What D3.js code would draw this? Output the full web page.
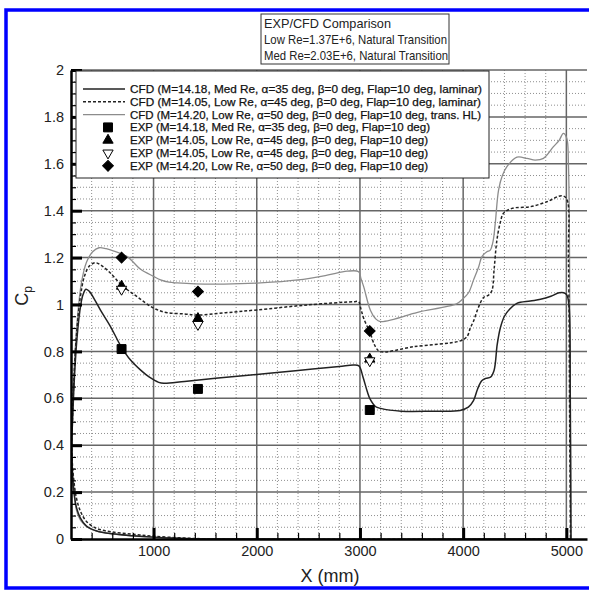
<!DOCTYPE html>
<html>
<head>
<meta charset="utf-8">
<script src="https://cdn.jsdelivr.net/npm/d3@7"></script>
<style>
body { margin: 0; background: #fff; }
text { font-family: "Liberation Sans", Arial, Helvetica, sans-serif; }
</style>
</head>
<body>
<div id="chart"></div>
<script>
// ---- data ----
var xTicks = [1000, 2000, 3000, 4000, 5000];
var xTickLabels = ["1000", "2000", "3000", "4000", "5000"];
var yTicks = [0, 0.2, 0.4, 0.6, 0.8, 1, 1.2, 1.4, 1.6, 1.8, 2];
var yTickLabels = ["0", "0.2", "0.4", "0.6", "0.8", "1", "1.2", "1.4", "1.6", "1.8", "2"];

var titleLines = ["EXP/CFD Comparison", "Low Re=1.37E+6, Natural Transition", "Med Re=2.03E+6, Natural Transition"];

var legendLabels = [
  "CFD (M=14.18, Med Re, \u03b1=35 deg, \u03b2=0 deg, Flap=10 deg, laminar)",
  "CFD (M=14.05, Low Re, \u03b1=45 deg, \u03b2=0 deg, Flap=10 deg, laminar)",
  "CFD (M=14.20, Low Re, \u03b1=50 deg, \u03b2=0 deg, Flap=10 deg, trans. HL)",
  "EXP (M=14.18, Med Re, \u03b1=35 deg, \u03b2=0 deg, Flap=10 deg)",
  "EXP (M=14.05, Low Re, \u03b1=45 deg, \u03b2=0 deg, Flap=10 deg)",
  "EXP (M=14.05, Low Re, \u03b1=45 deg, \u03b2=0 deg, Flap=10 deg)",
  "EXP (M=14.20, Low Re, \u03b1=50 deg, \u03b2=0 deg, Flap=10 deg)"
];

// CFD, leeward side (trailing edge -> nose)
var cfd35LeeX  = [5045, 1500, 1200, 1000, 800, 600, 450, 350, 290, 250, 225, 212];
var cfd35LeeCp = [0, 0, 0.004, 0.008, 0.014, 0.022, 0.034, 0.055, 0.09, 0.14, 0.22, 0.3];
var cfd45LeeX  = [5040, 1600, 1300, 1000, 800, 600, 450, 350, 290, 250, 225, 212];
var cfd45LeeCp = [0, 0, 0.004, 0.012, 0.02, 0.03, 0.045, 0.075, 0.12, 0.18, 0.26, 0.33];
var cfd50LeeX  = [5042, 1400, 1100, 900, 700, 500, 380, 300, 255, 228, 213];
var cfd50LeeCp = [0, 0, 0.005, 0.01, 0.017, 0.028, 0.045, 0.075, 0.12, 0.2, 0.3];

// CFD, windward side (nose -> trailing edge)
var cfd35X  = [205, 215, 230, 255, 285, 315, 345, 380, 430, 487, 584, 680, 777, 875, 960, 1050, 1100, 1300, 1600, 2000, 2400, 2800, 2940, 2990, 3030, 3070, 3100, 3150, 3200, 3400, 3700, 3970, 4050, 4100, 4140, 4180, 4220, 4265, 4300, 4330, 4360, 4400, 4450, 4520, 4650, 4750, 4850, 4930, 4975, 5005, 5025, 5038, 5045];
var cfd35Cp = [0.40, 0.50, 0.66, 0.84, 0.97, 1.04, 1.065, 1.055, 1.02, 0.975, 0.905, 0.825, 0.763, 0.72, 0.69, 0.668, 0.664, 0.672, 0.685, 0.702, 0.719, 0.736, 0.742, 0.738, 0.69, 0.63, 0.595, 0.565, 0.557, 0.545, 0.545, 0.548, 0.562, 0.59, 0.64, 0.675, 0.685, 0.69, 0.72, 0.83, 0.90, 0.95, 0.98, 1.005, 1.015, 1.022, 1.035, 1.05, 1.05, 1.04, 1.0, 0.6, 0];

var cfd45X  = [205, 215, 230, 255, 290, 330, 380, 438, 500, 584, 690, 842, 1003, 1133, 1300, 1423, 1700, 2004, 2488, 2939, 2987, 3010, 3036, 3100, 3150, 3198, 3520, 3972, 4037, 4069, 4101, 4150, 4198, 4246, 4279, 4300, 4327, 4360, 4391, 4472, 4650, 4811, 4956, 5004, 5020, 5032, 5040];
var cfd45Cp = [0.40, 0.52, 0.70, 0.88, 1.03, 1.12, 1.165, 1.178, 1.165, 1.133, 1.083, 1.033, 0.984, 0.965, 0.96, 0.955, 0.965, 0.977, 0.998, 1.012, 1.012, 0.98, 0.941, 0.877, 0.82, 0.799, 0.82, 0.845, 0.863, 0.9, 0.93, 0.99, 1.03, 1.04, 1.06, 1.15, 1.275, 1.35, 1.389, 1.41, 1.417, 1.438, 1.464, 1.449, 1.2, 0.5, 0];

var cfd50X  = [205, 215, 230, 260, 300, 350, 410, 471, 540, 616, 745, 875, 1000, 1068, 1150, 1229, 1400, 1681, 2036, 2400, 2682, 2875, 2987, 3010, 3036, 3100, 3150, 3198, 3520, 3585, 3936, 3988, 4052, 4101, 4150, 4182, 4230, 4263, 4290, 4311, 4343, 4380, 4424, 4521, 4618, 4698, 4778, 4875, 4930, 4971, 5004, 5020, 5035, 5042];
var cfd50Cp = [0.40, 0.55, 0.72, 0.93, 1.09, 1.18, 1.225, 1.242, 1.238, 1.228, 1.204, 1.15, 1.12, 1.105, 1.095, 1.092, 1.088, 1.087, 1.092, 1.105, 1.125, 1.142, 1.14, 1.11, 1.076, 0.977, 0.94, 0.927, 0.962, 0.97, 1.003, 1.02, 1.05, 1.105, 1.16, 1.204, 1.225, 1.232, 1.27, 1.346, 1.488, 1.55, 1.588, 1.628, 1.623, 1.616, 1.623, 1.673, 1.70, 1.73, 1.709, 1.6, 0.8, 0];

// EXP
var expX = [690, 1430, 3095];
var exp35Cp = [0.81, 0.64, 0.55];
var exp45Cp = [1.078, 0.94, 0.767];
var exp45bCp = [1.065, 0.915, 0.76];
var exp50Cp = [1.20, 1.055, 0.887];

// ---- layout ----
var W = 589, H = 590;
var svg = d3.select("#chart").append("svg")
    .attr("width", W)
    .attr("height", H);

var x = d3.scaleLinear().domain([200, 5200]).range([71, 587]);
var y = d3.scaleLinear().domain([0, 2]).range([539, 70]);

svg.append("defs").append("clipPath").attr("id", "plotclip")
    .append("rect")
    .attr("x", 71).attr("y", 69)
    .attr("width", 520).attr("height", 471);

//grid
var xMinor = d3.range(400, 5200, 200).filter(function(v){ return v % 1000 != 0; });
var yMinor = d3.range(1, 40).map(function(i){ return i * 0.05; }).filter(function(v, i){ return (i + 1) % 4 != 0; });

var grid = svg.append("g").attr("clip-path", "url(#plotclip)");

grid.selectAll(".vminor").data(xMinor).enter().append("line")
    .attr("class", "vminor")
    .attr("x1", function(d){ return x(d); }).attr("x2", function(d){ return x(d); })
    .attr("y1", y(0)).attr("y2", y(2))
    .attr("stroke", "#8f8f8f").attr("stroke-width", 1)
    .attr("stroke-dasharray", "1,2");

grid.selectAll(".hminor").data(yMinor).enter().append("line")
    .attr("class", "hminor")
    .attr("x1", x(200)).attr("x2", x(5200))
    .attr("y1", function(d){ return y(d); }).attr("y2", function(d){ return y(d); })
    .attr("stroke", "#8f8f8f").attr("stroke-width", 1)
    .attr("stroke-dasharray", "1,2");

grid.selectAll(".vmajor").data(xTicks).enter().append("line")
    .attr("class", "vmajor")
    .attr("x1", function(d){ return x(d); }).attr("x2", function(d){ return x(d); })
    .attr("y1", y(0)).attr("y2", y(2))
    .attr("stroke", "#666").attr("stroke-width", 1.5);

grid.selectAll(".hmajor").data(yTicks.slice(1)).enter().append("line")
    .attr("class", "hmajor")
    .attr("x1", x(200)).attr("x2", x(5200))
    .attr("y1", function(d){ return y(d); }).attr("y2", function(d){ return y(d); })
    .attr("stroke", "#666").attr("stroke-width", 1.5);

//curves
function joinSeries(leeX, leeCp, winX, winCp) {
    var pts = [];
    for (var i = 0; i < leeX.length; i++) pts.push([leeX[i], leeCp[i]]);
    for (var j = 0; j < winX.length; j++) pts.push([winX[j], winCp[j]]);
    return pts;
}

var line = d3.line()
    .x(function(d){ return x(d[0]); })
    .y(function(d){ return y(d[1]); })
    .curve(d3.curveCatmullRom.alpha(0.5));

var curves = svg.append("g").attr("clip-path", "url(#plotclip)");

curves.append("path")
    .attr("d", line(joinSeries(cfd50LeeX, cfd50LeeCp, cfd50X, cfd50Cp)))
    .attr("fill", "none").attr("stroke", "#8c8c8c").attr("stroke-width", 1.3);

curves.append("path")
    .attr("d", line(joinSeries(cfd45LeeX, cfd45LeeCp, cfd45X, cfd45Cp)))
    .attr("fill", "none").attr("stroke", "#222").attr("stroke-width", 1.5)
    .attr("stroke-dasharray", "3,2");

curves.append("path")
    .attr("d", line(joinSeries(cfd35LeeX, cfd35LeeCp, cfd35X, cfd35Cp)))
    .attr("fill", "none").attr("stroke", "#222").attr("stroke-width", 1.5);

//markers
var sq = d3.symbol().type(d3.symbolSquare).size(80);
var tri = d3.symbol().type(d3.symbolTriangle).size(46);
var dia = d3.symbol().type(d3.symbolSquare).size(58);

function drawMarkers(cls, cp, sym, rot, fill) {
    svg.selectAll("." + cls).data(cp).enter().append("path")
        .attr("class", cls)
        .attr("d", sym)
        .attr("transform", function(d, i){ return "translate(" + x(expX[i]) + "," + y(d) + ") rotate(" + rot + ")"; })
        .attr("fill", fill)
        .attr("stroke", "#000")
        .attr("stroke-width", 1);
}
drawMarkers("m35", exp35Cp, sq, 0, "#000");
drawMarkers("m45", exp45Cp, tri, 0, "#000");
drawMarkers("m45b", exp45bCp, tri, 180, "#fff");
drawMarkers("m50", exp50Cp, dia, 45, "#000");

//axes
var xAxisMinor = d3.axisBottom(x).tickValues(xMinor).tickSize(-6).tickSizeOuter(0).tickFormat("");
var xAxis = d3.axisBottom(x).tickValues(xTicks).tickSize(-11).tickSizeOuter(0).tickPadding(7)
    .tickFormat(function(d, i){ return xTickLabels[i]; });
var yAxisMinor = d3.axisLeft(y).tickValues(yMinor).tickSize(-5).tickSizeOuter(0).tickFormat("");
var yAxis = d3.axisLeft(y).tickValues(yTicks).tickSize(-11).tickSizeOuter(0).tickPadding(7)
    .tickFormat(function(d, i){ return yTickLabels[i]; });

var gxm = svg.append("g").attr("transform", "translate(0," + y(0) + ")").call(xAxisMinor);
var gx = svg.append("g").attr("transform", "translate(0," + y(0) + ")").call(xAxis);
var gym = svg.append("g").attr("transform", "translate(" + x(200) + ",0)").call(yAxisMinor);
var gy = svg.append("g").attr("transform", "translate(" + x(200) + ",0)").call(yAxis);

[gxm, gym].forEach(function(g){
    g.select(".domain").remove();
    g.selectAll(".tick line").attr("stroke", "#000").attr("stroke-width", 1.2);
});
[gx, gy].forEach(function(g){
    g.select(".domain").attr("stroke", "#000").attr("stroke-width", 2.5);
    g.selectAll(".tick line").attr("stroke", "#000").attr("stroke-width", 3);
    g.selectAll(".tick text")
        .attr("fill", "#222")
        .style("font-size", "14.5px")
        .attr("font-family", "Liberation Sans, Arial, sans-serif");
});

//axis titles
svg.append("text")
    .attr("x", 330).attr("y", 582)
    .attr("text-anchor", "middle")
    .style("font-size", "18px")
    .attr("fill", "#222")
    .text("X (mm)");

var ylab = svg.append("text")
    .attr("transform", "translate(28,296) rotate(-90)")
    .attr("text-anchor", "middle")
    .style("font-size", "18px")
    .attr("fill", "#222");
ylab.append("tspan").text("C");
ylab.append("tspan").attr("dy", 4).style("font-size", "12px").text("p");

//legend
var legend = svg.append("g").attr("class", "legend");
legend.append("rect")
    .attr("x", 76).attr("y", 71)
    .attr("width", 413).attr("height", 107)
    .attr("fill", "#fff").attr("stroke", "#222").attr("stroke-width", 1);

var rowY = function(i){ return 89 + i * 12.8; };

legend.append("line").attr("x1", 83).attr("x2", 125).attr("y1", rowY(0)).attr("y2", rowY(0))
    .attr("stroke", "#222").attr("stroke-width", 1.5);
legend.append("line").attr("x1", 83).attr("x2", 125).attr("y1", rowY(1)).attr("y2", rowY(1))
    .attr("stroke", "#222").attr("stroke-width", 1.5).attr("stroke-dasharray", "3,2");
legend.append("line").attr("x1", 83).attr("x2", 125).attr("y1", rowY(2)).attr("y2", rowY(2))
    .attr("stroke", "#8c8c8c").attr("stroke-width", 1.3);

var legSyms = [[sq, 0, "#000"], [tri, 0, "#000"], [tri, 180, "#fff"], [dia, 45, "#000"]];
legSyms.forEach(function(s, k){
    legend.append("path")
        .attr("d", s[0])
        .attr("transform", "translate(108," + rowY(k + 3) + ") rotate(" + s[1] + ")")
        .attr("fill", s[2]).attr("stroke", "#000").attr("stroke-width", 1);
});

var legW = [352, 351, 351, 300, 298, 298, 298];
legend.selectAll(".legtext").data(legendLabels).enter().append("text")
    .attr("class", "legtext")
    .attr("x", 130)
    .attr("y", function(d, i){ return rowY(i) + 4; })
    .style("font-size", "11px")
    .attr("fill", "#111")
    .attr("stroke", "#111")
    .attr("stroke-width", 0.25)
    .attr("textLength", function(d, i){ return legW[i]; })
    .attr("lengthAdjust", "spacingAndGlyphs")
    .text(function(d){ return d; });

//title box
var tb = svg.append("g").attr("class", "titlebox");
tb.append("rect")
    .attr("x", 261).attr("y", 14)
    .attr("width", 188).attr("height", 50)
    .attr("fill", "#fff").attr("stroke", "#333").attr("stroke-width", 1);
var titleW = [127, 183, 184];
tb.selectAll(".ttl").data(titleLines).enter().append("text")
    .attr("class", "ttl")
    .attr("x", 264)
    .attr("y", function(d, i){ return 28 + i * 16; })
    .style("font-size", "13.5px")
    .attr("fill", "#222")
    .attr("textLength", function(d, i){ return titleW[i]; })
    .attr("lengthAdjust", "spacingAndGlyphs")
    .text(function(d){ return d; });

//outer blue frame
svg.append("rect")
    .attr("x", 6).attr("y", 10)
    .attr("width", 600).attr("height", 578)
    .attr("fill", "none")
    .attr("stroke", "#0000ff")
    .attr("stroke-width", 3.5);
</script>
</body>
</html>
